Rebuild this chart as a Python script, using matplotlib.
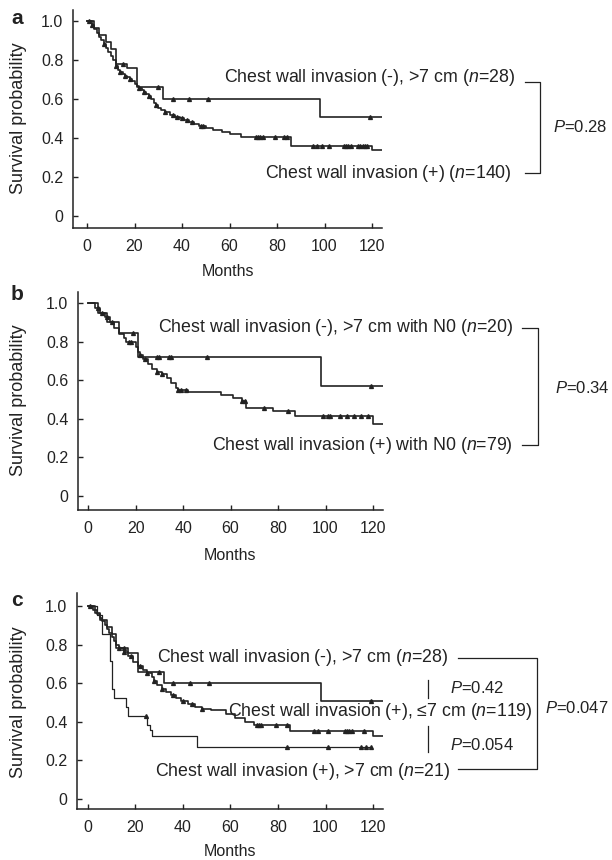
import numpy as np
import matplotlib.pyplot as plt
from matplotlib.lines import Line2D

plt.rcParams['font.family'] = ['Liberation Sans', 'DejaVu Sans']
plt.rcParams['mathtext.fontset'] = 'custom'
plt.rcParams['mathtext.rm'] = 'Liberation Sans'
plt.rcParams['mathtext.it'] = 'Liberation Sans:italic'

W, H = 612, 860
INK = '#222222'

# ---- panel a ----
a_neg_t = [0, 3, 5, 8, 10, 12, 17, 21, 32, 98, 124]
a_neg_s = [1.0, 0.964, 0.929, 0.893, 0.857, 0.78, 0.757, 0.66, 0.60, 0.51, 0.51]
a_neg_cens = [1, 15, 30, 36, 43, 51, 119]

a_pos_t = [0, 2, 3, 4, 5, 6, 7, 8, 9, 10, 11, 12, 13, 14, 15, 16, 17, 18, 19, 20,
           21, 22, 23, 24, 25, 26, 27, 28, 29, 30, 31, 33, 35, 37, 39, 41, 43, 45,
           47, 50, 53, 57, 60, 65, 86, 120, 124]
a_pos_s = [1.0, 0.98, 0.96, 0.94, 0.92, 0.90, 0.88, 0.86, 0.84, 0.82, 0.80, 0.77,
           0.75, 0.74, 0.73, 0.72, 0.71, 0.70, 0.69, 0.675, 0.665, 0.655, 0.645, 0.635,
           0.625, 0.615, 0.60, 0.58, 0.57, 0.555, 0.545, 0.535, 0.52, 0.51, 0.50,
           0.49, 0.48, 0.47, 0.46, 0.45, 0.44, 0.43, 0.42, 0.405, 0.36, 0.34, 0.34]
a_pos_cens = [2, 7, 12, 14, 16, 18, 22, 24, 26, 29, 33, 36, 38, 40, 42, 44, 48, 49,
              71, 72, 73, 74, 79, 83, 84, 95, 97, 99, 102, 108, 109, 110, 111,
              114, 115, 116, 117, 118]

# ---- panel b ----
b_neg_t = [0, 4, 8, 13, 21, 98, 124]
b_neg_s = [1.0, 0.95, 0.90, 0.845, 0.72, 0.57, 0.57]
b_neg_cens = [19, 29, 30, 34, 35, 50, 119]

b_pos_t = [0, 3, 5, 7, 9, 11, 13, 15, 16, 20, 21, 22, 23, 25, 27, 29, 31, 33, 35,
           37, 38, 42, 56, 61, 65, 66.5, 78, 87, 120, 124]
b_pos_s = [1.0, 0.975, 0.95, 0.925, 0.90, 0.87, 0.84, 0.82, 0.80, 0.77, 0.745,
           0.73, 0.71, 0.685, 0.66, 0.64, 0.63, 0.61, 0.585, 0.56, 0.55, 0.54,
           0.525, 0.51, 0.49, 0.455, 0.44, 0.415, 0.375, 0.375]
b_pos_cens = [4, 6, 8, 10, 17, 18, 22, 24, 29, 31, 38, 39, 41, 65, 66, 74, 84,
              99, 101, 102, 106, 109, 112, 115, 118]

# ---- panel c ----
c_neg_t = a_neg_t
c_neg_s = a_neg_s
c_neg_cens = a_neg_cens

c_le7_t = [0, 2, 4, 5, 6, 7, 8, 9, 10, 11, 12, 13, 15, 17, 19, 21, 23, 25, 27, 28,
           29, 31, 33, 35, 37, 39, 42, 45, 48, 52, 58, 62, 66, 70, 85, 120, 124]
c_le7_s = [1.0, 0.98, 0.96, 0.94, 0.92, 0.90, 0.88, 0.86, 0.84, 0.82, 0.80, 0.78,
           0.76, 0.74, 0.71, 0.69, 0.67, 0.65, 0.63, 0.61, 0.59, 0.57, 0.555,
           0.54, 0.525, 0.51, 0.49, 0.475, 0.465, 0.46, 0.44, 0.42, 0.40, 0.385,
           0.35, 0.325, 0.325]
c_le7_cens = [13, 15, 18, 22, 25, 28, 31, 36, 40, 44, 48, 71, 72, 73, 79, 84, 95,
              97, 101, 108, 109, 110, 111, 116]

c_gt7_t = [0, 4, 6, 9.5, 10, 11, 16, 17, 25, 26, 27, 46, 119]
c_gt7_s = [1.0, 0.952, 0.857, 0.714, 0.571, 0.524, 0.476, 0.429, 0.381, 0.357,
           0.324, 0.27, 0.27]
c_gt7_cens = [24.5, 84, 101, 115, 117, 119]

x_ticks = [0, 20, 40, 60, 80, 100, 120]
y_ticks = [0, 0.2, 0.4, 0.6, 0.8, 1.0]
y_labels = ['0', '0.2', '0.4', '0.6', '0.8', '1.0']


def surv_at(t, s, x):
    idx = np.searchsorted(t, x, side='right') - 1
    return np.array(s)[idx]


def km(ax, t, s, cens, lw=1.2):
    ax.plot(t, s, drawstyle='steps-post', color=INK, lw=lw)
    ax.plot(cens, surv_at(t, s, cens), ls='', marker='^', ms=2.8, color=INK)


def setup(ax, xlim, ylim):
    ax.set_xlim(*xlim)
    ax.set_ylim(*ylim)
    for sp in ['top', 'right']:
        ax.spines[sp].set_visible(False)
    for sp in ['left', 'bottom']:
        ax.spines[sp].set_linewidth(1.1)
        ax.spines[sp].set_color(INK)
    ax.set_xticks(x_ticks)
    ax.set_yticks(y_ticks)
    ax.set_yticklabels(y_labels)
    ax.tick_params(direction='in', length=3.5, width=1, labelsize=11.5,
                   colors=INK)
    ax.tick_params(axis='x', pad=8)
    ax.tick_params(axis='y', pad=7)


def fx(x):
    return x / W


def fy(y):
    return 1 - y / H


def ftext(x, y, s, **kw):
    kw.setdefault('fontsize', 12.8)
    kw.setdefault('va', 'center')
    kw.setdefault('color', INK)
    fig.text(fx(x), fy(y), s, **kw)


def fline(xs, ys, lw=0.9):
    fig.add_artist(Line2D([fx(v) for v in xs], [fy(v) for v in ys],
                          transform=fig.transFigure, color=INK, lw=lw))


fig = plt.figure(figsize=(W / 100, H / 100), dpi=100)

ax_a = fig.add_axes([fx(73), fy(228), (382 - 73) / W, (228 - 10) / H])
ax_b = fig.add_axes([fx(78), fy(510), (383 - 78) / W, (510 - 292) / H])
ax_c = fig.add_axes([fx(77), fy(809), (383 - 77) / W, (809 - 593) / H])

setup(ax_a, (-5.9, 124.2), (-0.0615, 1.056))
setup(ax_b, (-4.3, 124.2), (-0.0725, 1.057))
setup(ax_c, (-4.6, 124.2), (-0.052, 1.067))

km(ax_a, a_neg_t, a_neg_s, a_neg_cens)
km(ax_a, a_pos_t, a_pos_s, a_pos_cens)
km(ax_b, b_neg_t, b_neg_s, b_neg_cens)
km(ax_b, b_pos_t, b_pos_s, b_pos_cens)
km(ax_c, c_neg_t, c_neg_s, c_neg_cens)
km(ax_c, c_le7_t, c_le7_s, c_le7_cens)
km(ax_c, c_gt7_t, c_gt7_s, c_gt7_cens, lw=0.9)

# panel letters, axis titles
for letter, y in [('a', 18), ('b', 295), ('c', 600)]:
    ftext(17, y, letter, fontsize=15, fontweight='bold', ha='center')
for yc in [118, 400, 702]:
    ftext(19, yc, 'Survival probability', fontsize=13, rotation=90, ha='center')
for xc, yc in [(228, 272), (230, 555), (230, 852)]:
    ftext(xc, yc, 'Months', fontsize=11.5, ha='center')

# panel a annotations
ftext(515, 78, r'Chest wall invasion (-), >7 cm ($\it{n}$=28)', ha='right')
ftext(512, 173, r'Chest wall invasion (+) ($\it{n}$=140)', ha='right')
fline([525, 540, 540, 525], [82, 82, 173, 173])
ftext(553, 127, r'$\it{P}$=0.28', ha='left', fontsize=12)

# panel b annotations
ftext(513, 327, r'Chest wall invasion (-), >7 cm with N0 ($\it{n}$=20)', ha='right')
ftext(513, 445, r'Chest wall invasion (+) with N0 ($\it{n}$=79)', ha='right')
fline([522, 538, 538, 522], [328, 328, 445, 445])
ftext(555, 388, r'$\it{P}$=0.34', ha='left', fontsize=12)

# panel c annotations
ftext(448, 657, r'Chest wall invasion (-), >7 cm ($\it{n}$=28)', ha='right')
ftext(533, 711, r'Chest wall invasion (+), ≤7 cm ($\it{n}$=119)', ha='right')
ftext(450, 772, r'Chest wall invasion (+), >7 cm ($\it{n}$=21)', ha='right')
fline([458, 537, 537, 458], [658, 658, 769, 769])
fline([428, 428], [680, 698])
fline([428, 428], [726, 752])
ftext(450, 688, r'$\it{P}$=0.42', ha='left', fontsize=12)
ftext(450, 745, r'$\it{P}$=0.054', ha='left', fontsize=12)
ftext(545, 708, r'$\it{P}$=0.047', ha='left', fontsize=12)

fig.savefig('out.png', dpi=100)
